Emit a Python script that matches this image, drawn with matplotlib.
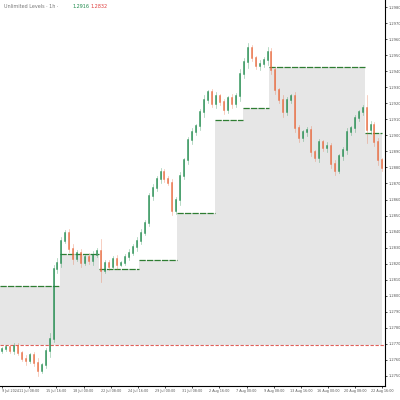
import matplotlib.pyplot as plt
import numpy as np

BASE = 1.2750
# closes, in pips above BASE
close_pips = [16.9, 18.1, 15.6, 18.8, 14.4, 10.6, 9.4, 13.1, 8.1, 3.1, 6.9, 15.6, 23.1,
              66.9, 70.6, 84.4, 89.4, 79.4, 73.1, 76.9, 70.6, 74.4, 71.9, 75.6, 78.1,
              65.6, 70.6, 68.1, 73.1, 69.4, 70.6, 74.4, 76.9, 80.6, 84.4, 89.4, 95.6,
              111.9, 116.9, 123.1, 126.9, 123.1, 120.6, 103.1, 109.4, 124.4, 134.4, 146.9,
              151.9, 155.6, 164.4, 171.9, 176.9, 169.4, 174.4, 170.6, 165.6, 173.1, 169.4,
              174.4, 188.1, 195.6, 204.4, 198.1, 193.1, 194.4, 196.9, 201.9, 190.6, 178.1,
              171.9, 164.4, 171.9, 174.4, 154.4, 148.1, 151.9, 153.1, 139.4, 135.6, 145.6,
              141.9, 143.1, 131.9, 128.1, 136.9, 140.6, 151.9, 154.4, 160.6, 164.4, 166.9,
              153.1, 156.3, 145.6, 134.4, 129.4]
wick_pips = [2, 3, 2, 4, 3, 2, 5, 3, 4, 6, 3, 4, 8,
             4, 6, 5, 3, 4, 6, 3, 5, 3, 4, 5, 3,
             14, 3, 4, 3, 5, 2, 3, 4, 3, 5, 4, 3,
             4, 5, 3, 6, 4, 3, 5, 4, 6, 3, 4,
             5, 3, 4, 6, 3, 4, 5, 3, 4, 3, 5,
             4, 6, 5, 7, 4, 3, 5, 4, 6, 5, 4,
             3, 6, 4, 3, 5, 4, 3, 4, 5, 3, 4,
             3, 5, 4, 6, 3, 4, 5, 3, 4, 3, 4,
             16, 5, 4, 6, 3]

step_edges = [0, 15.25, 25, 35, 44.75, 54.25, 61.25, 68, 92, 96.5]
step_levels = [56.3, 76.3, 66.9, 72.5, 101.3, 159.4, 166.9, 192.5, 151.3]
red_level = 19.4

x_labels = ["9 Jul 2024", "11 Jul 08:00", "15 Jul 16:00", "18 Jul 00:00", "22 Jul 08:00",
            "24 Jul 16:00", "29 Jul 00:00", "31 Jul 08:00", "2 Aug 16:00", "7 Aug 00:00",
            "9 Aug 08:00", "13 Aug 16:00", "16 Aug 00:00", "20 Aug 08:00", "22 Aug 16:00"]

up_c, dn_c = "#1f8a4c", "#e8693d"

fig = plt.figure(figsize=(4, 4), dpi=100)
ax = fig.add_axes([0.0, 0.035, 0.963, 0.965])

# shaded area between step line and red level
for i, lvl in enumerate(step_levels):
    x0, x1 = step_edges[i] - 0.5, step_edges[i + 1] - 0.5
    ax.fill_between([x0, x1], red_level, lvl, color="#e6e6e6", lw=0)
    ax.plot([x0, x1], [lvl, lvl], color="#2e7d32", lw=0.9, ls=(0, (5, 1)))
ax.axhline(red_level, color="#e0605a", lw=0.8, ls=(0, (3, 1.5)))

closes = np.array(close_pips)
opens = np.concatenate([[close_pips[0] - 1.5], closes[:-1]])
for i, (o, c, w) in enumerate(zip(opens, closes, wick_pips)):
    col = up_c if c >= o else dn_c
    hi, lo = max(o, c) + w * 0.5, min(o, c) - w * 0.5
    ax.plot([i, i], [lo, hi], color=col, lw=0.5, alpha=0.45)
    ax.plot([i, i], [o, c], color=col, lw=1.1, alpha=0.9)

ax.set_xlim(-0.5, len(close_pips) - 0.3)
ax.set_ylim(-6.25, 234.4)
ax.yaxis.tick_right()
yt = np.arange(0, 231, 10)
ax.set_yticks(yt)
ax.set_yticklabels([f"{BASE + v / 10000:.4f}" for v in yt], fontsize=2.6, color="#555")
xt = np.linspace(0, len(close_pips) - 1, len(x_labels))
ax.set_xticks(xt)
ax.set_xticklabels(x_labels, fontsize=2.4, color="#555")
ax.get_xticklabels()[0].set_ha("left")
ax.tick_params(length=1.5, width=0.5, pad=1)
for s in ["top", "left"]:
    ax.spines[s].set_visible(False)
for s in ["right", "bottom"]:
    ax.spines[s].set_linewidth(0.8)

fig.text(0.01, 0.985, "Unlimited Levels · 1h ·", fontsize=3.5, color="#777", va="center")
fig.text(0.18, 0.985, "1.2916", fontsize=3.5, color="#1f8a4c", va="center")
fig.text(0.225, 0.985, "1.2832", fontsize=3.5, color="#e04040", va="center")

fig.savefig("out.png", dpi=100, facecolor="white")
